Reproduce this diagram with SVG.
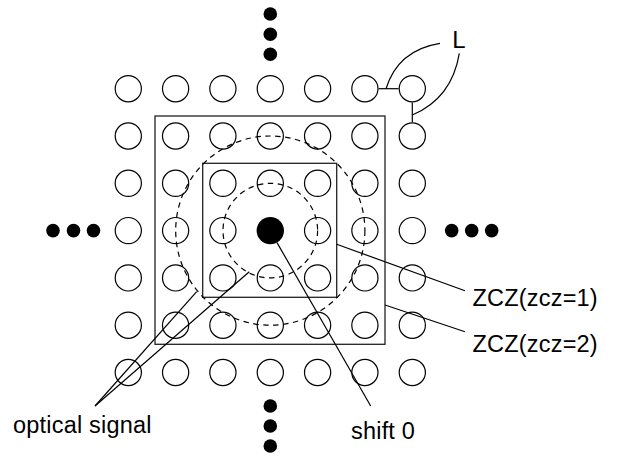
<svg xmlns="http://www.w3.org/2000/svg" width="618" height="456" viewBox="0 0 618 456">
<style>
.c{fill:#fff;stroke:#000;stroke-width:1.2}
.f{fill:#000}
.sq{fill:none;stroke:#222;stroke-width:1.3}
.dc{fill:none;stroke:#000;stroke-width:1.2;stroke-dasharray:5.5 4.5}
.ln{fill:none;stroke:#000;stroke-width:1.2}
text{font-family:"Liberation Sans",Arial,sans-serif;font-size:23.5px;letter-spacing:0.2px;fill:#000}
</style>
<defs>
<circle id="o" r="13.1" class="c"/>
</defs>
<rect width="618" height="456" fill="#fff"/>
<g id="grid">
<g id="n00"><use href="#o" x="128.3" y="88.7"/></g>
<g id="n01"><use href="#o" x="175.6" y="88.7"/></g>
<g id="n02"><use href="#o" x="222.9" y="88.7"/></g>
<g id="n03"><use href="#o" x="270.3" y="88.7"/></g>
<g id="n04"><use href="#o" x="317.6" y="88.7"/></g>
<g id="n05"><use href="#o" x="364.9" y="88.7"/></g>
<g id="n06"><use href="#o" x="412.3" y="88.7"/></g>
<g id="n10"><use href="#o" x="128.3" y="136"/></g>
<g id="n11"><use href="#o" x="175.6" y="136"/></g>
<g id="n12"><use href="#o" x="222.9" y="136"/></g>
<g id="n13"><use href="#o" x="270.3" y="136"/></g>
<g id="n14"><use href="#o" x="317.6" y="136"/></g>
<g id="n15"><use href="#o" x="364.9" y="136"/></g>
<g id="n16"><use href="#o" x="412.3" y="136"/></g>
<g id="n20"><use href="#o" x="128.3" y="183.3"/></g>
<g id="n21"><use href="#o" x="175.6" y="183.3"/></g>
<g id="n22"><use href="#o" x="222.9" y="183.3"/></g>
<g id="n23"><use href="#o" x="270.3" y="183.3"/></g>
<g id="n24"><use href="#o" x="317.6" y="183.3"/></g>
<g id="n25"><use href="#o" x="364.9" y="183.3"/></g>
<g id="n26"><use href="#o" x="412.3" y="183.3"/></g>
<g id="n30"><use href="#o" x="128.3" y="230.6"/></g>
<g id="n31"><use href="#o" x="175.6" y="230.6"/></g>
<g id="n32"><use href="#o" x="222.9" y="230.6"/></g>
<g id="n33"><circle cx="270.3" cy="230.6" r="13.7" class="f"/></g>
<g id="n34"><use href="#o" x="317.6" y="230.6"/></g>
<g id="n35"><use href="#o" x="364.9" y="230.6"/></g>
<g id="n36"><use href="#o" x="412.3" y="230.6"/></g>
<g id="n40"><use href="#o" x="128.3" y="277.9"/></g>
<g id="n41"><use href="#o" x="175.6" y="277.9"/></g>
<g id="n42"><use href="#o" x="222.9" y="277.9"/></g>
<g id="n43"><use href="#o" x="270.3" y="277.9"/></g>
<g id="n44"><use href="#o" x="317.6" y="277.9"/></g>
<g id="n45"><use href="#o" x="364.9" y="277.9"/></g>
<g id="n46"><use href="#o" x="412.3" y="277.9"/></g>
<g id="n50"><use href="#o" x="128.3" y="325.2"/></g>
<g id="n51"><use href="#o" x="175.6" y="325.2"/></g>
<g id="n52"><use href="#o" x="222.9" y="325.2"/></g>
<g id="n53"><use href="#o" x="270.3" y="325.2"/></g>
<g id="n54"><use href="#o" x="317.6" y="325.2"/></g>
<g id="n55"><use href="#o" x="364.9" y="325.2"/></g>
<g id="n56"><use href="#o" x="412.3" y="325.2"/></g>
<g id="n60"><use href="#o" x="128.3" y="372.5"/></g>
<g id="n61"><use href="#o" x="175.6" y="372.5"/></g>
<g id="n62"><use href="#o" x="222.9" y="372.5"/></g>
<g id="n63"><use href="#o" x="270.3" y="372.5"/></g>
<g id="n64"><use href="#o" x="317.6" y="372.5"/></g>
<g id="n65"><use href="#o" x="364.9" y="372.5"/></g>
<g id="n66"><use href="#o" x="412.3" y="372.5"/></g>
</g>
<g id="ellipsis">
<g id="dots-top" class="f"><circle cx="270.3" cy="14" r="6.8"/><circle cx="270.3" cy="34.2" r="6.8"/><circle cx="270.3" cy="54.3" r="6.8"/></g>
<g id="dots-bottom" class="f"><circle cx="270.3" cy="406" r="6.8"/><circle cx="270.3" cy="426" r="6.8"/><circle cx="270.3" cy="446" r="6.8"/></g>
<g id="dots-left" class="f"><circle cx="53" cy="230.6" r="6.8"/><circle cx="73.5" cy="230.6" r="6.8"/><circle cx="93.5" cy="230.6" r="6.8"/></g>
<g id="dots-right" class="f"><circle cx="451.7" cy="230.6" r="6.8"/><circle cx="471.7" cy="230.6" r="6.8"/><circle cx="491.7" cy="230.6" r="6.8"/></g>
</g>
<g id="zcz2"><rect x="155" y="116" width="230" height="228.3" class="sq"/></g>
<g id="zcz1"><rect x="202.7" y="163.3" width="134" height="134" class="sq"/></g>
<g id="signal-small"><circle cx="270.3" cy="230.6" r="47.3" class="dc"/></g>
<g id="signal-large"><circle cx="270.3" cy="230.6" r="94.6" class="dc"/></g>
<g id="connectors">
<line x1="378.6" y1="88.7" x2="398.6" y2="88.7" class="ln"/>
<line x1="412.3" y1="102.4" x2="412.3" y2="122.3" class="ln"/>
<path d="M386 88.7 Q398 50 440 43.3" class="ln"/>
<path d="M412.3 115 Q452 98 459.3 53.3" class="ln"/>
<line x1="336.7" y1="244.3" x2="465" y2="290.7" class="ln"/>
<line x1="385" y1="305" x2="465" y2="331.7" class="ln"/>
<line x1="277" y1="242.6" x2="370.7" y2="406" class="ln"/>
<line x1="95" y1="406" x2="196.7" y2="291.7" class="ln"/>
<line x1="95" y1="406" x2="249.3" y2="271.7" class="ln"/>
</g>
<g id="labels">
<text x="452.3" y="48" style="font-size:24px;letter-spacing:0">L</text>
<text x="472.5" y="306">ZCZ(zcz=1)</text>
<text x="472.5" y="352">ZCZ(zcz=2)</text>
<text x="13" y="433">optical signal</text>
<text x="351" y="439">shift 0</text>
</g>
</svg>
